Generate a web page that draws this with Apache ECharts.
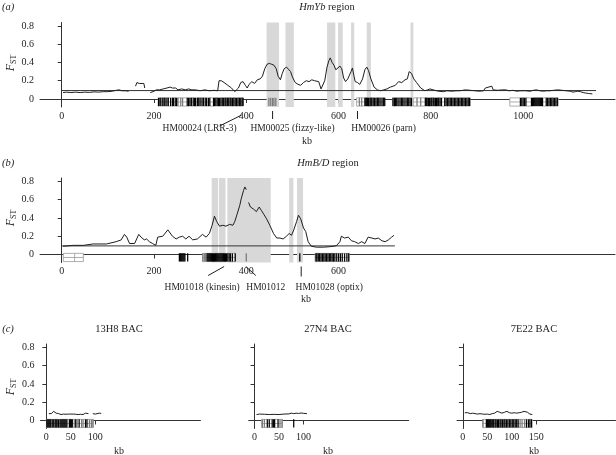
<!DOCTYPE html>
<html>
<head>
<meta charset="utf-8">
<script src="https://cdn.jsdelivr.net/npm/echarts@6/dist/echarts.min.js"></script>
<style>
html, body { margin: 0; padding: 0; background: #fff; }
#chart { width: 616px; height: 455px; }
</style>
</head>
<body>
<div id="chart"></div>
<script>
// ---- panel (a) HmYb region ----
const fstA = [[3,0.07],[10,0.075],[20,0.07],[30,0.075],[40,0.07],[50,0.075],[60,0.072],[70,0.078],[80,0.075],[90,0.08],[100,0.08],[110,0.085],[118,0.095],[125,0.1],[130,0.09],[138,0.09],[145,0.085],[152,null],
  [160,0.14],[163,0.18],[168,0.17],[172,0.18],[178,0.17],[180,0.12],[186,null],
  [192,0.07],[198,0.08],[205,0.1],[212,0.1],[220,0.11],[228,0.12],[235,0.13],[240,0.12],[247,0.12],[252,0.1],[260,0.11],[268,0.1],[275,0.11],[282,0.1],[290,0.1],[300,0.09],[310,0.1],[320,0.09],[330,0.095],[338,0.09],
  [341,0.2],[346,0.2],[352,0.18],[360,0.15],[368,0.12],[375,0.08],[379,0.07],[383,0.12],[388,0.18],[393,0.19],[398,0.15],[402,0.12],[406,0.16],[412,0.19],[418,0.17],[424,0.21],[430,0.22],[435,0.25],
  [440,0.33],[445,0.38],[450,0.39],[455,0.38],[460,0.37],[465,0.33],[469,0.25],[474,0.21],[478,0.28],[482,0.33],[487,0.35],[491,0.34],[496,0.3],[500,0.24],[506,0.18],[512,0.16],[518,0.15],[524,0.18],[530,0.2],[536,0.19],[542,0.21],[548,0.2],[552,0.22],[557,0.19],[562,0.11],[566,0.1],
  [570,0.2],[575,0.35],[579,0.42],[582,0.45],[586,0.4],[590,0.37],[594,0.32],[598,0.34],[603,0.36],[607,0.33],[611,0.23],[615,0.19],[620,0.22],[624,0.2],[627,0.3],[630,0.34],[633,0.26],[636,0.19],[641,0.18],[646,0.16],[652,0.22],[657,0.32],[661,0.35],[665,0.31],[670,0.22],[677,0.13],[684,0.1],
  [691,0.09],[698,0.1],[705,0.11],[712,0.13],[718,0.14],[723,0.15],[730,0.19],[737,0.18],[744,0.21],[749,0.22],[753,0.3],[758,0.28],[763,0.22],[769,0.18],[778,0.12],[787,0.09],[793,0.1],[798,0.11],[805,0.1],[816,0.085],[827,0.08],[835,0.09],[845,0.085],[855,0.09],[863,0.09],[875,0.1],[885,0.095],[895,0.09],[905,0.085],[914,0.09],
  [918,0.12],[922,0.14],[932,0.14],[935,0.1],[945,0.095],[955,0.1],[962,0.1],[970,0.09],[978,0.095],[986,0.085],[995,0.09],[1005,0.09],[1015,0.085],[1022,0.095],[1029,0.1],[1036,0.09],[1044,0.085],[1051,0.09],[1058,0.09],[1066,0.095],[1075,0.1],[1084,0.095],[1093,0.09],[1102,0.085],[1108,0.075],[1113,0.08],[1118,0.085],[1124,0.08],[1130,0.07],[1135,0.065],[1142,0.06],[1150,0.055]];
const cutoffA = [[0, 0.092], [1158, 0.092]];
const bandsA = [[444,471],[485,503],[575,593],[599,609],[627,634],[661,670],[756,762]];
const boxesA = [[209,393],[639,700],[717,758],[762,885],[971,1076]];
const blackTicksA = [210,213,215,219,222,224,228,231,236,240,242,246,249,
  272,275,278,281,285,288,290,294,297,300,304,307,311,314,318,321,
  329,331,334,337,340,342,345,348,351,354,356,359,362,365,367,370,373,376,379,382,385,388,391,393,
  657,659,661,663,665,668,670,672,675,678,681,684,687,690,694,697,700,
  718,721,723,726,729,733,736,739,742,746,749,752,755,758,
  788,790,792,795,797,800,802,805,807,810,812,815,817,820,823,830,833,836,839,842,845,848,851,854,857,860,863,866,869,872,875,878,881,884,
  994,997,1000,1003,1006,1018,1020,1022,1024,1026,1028,1030,1032,1034,1036,1038,1040,1042,1050,1053,1056,1059,1062,1065,1068,1071,1074];
const grayTicksA = [252,258,262,449,453,457,460,464,645,650,770,778];
const genesA = ['HM00024 (LRR-3)', 'HM00025 (fizzy-like)', 'HM00026 (parn)'];
const genePosA = [390, 457, 641];
const xTicksA = [0, 200, 400, 600, 800, 1000];

// ---- panel (b) HmB/D region ----
const fstB = [[3,0.09],[25,0.1],[47,0.1],[68,0.115],[97,0.115],[118,0.14],[129,0.16],[136,0.22],[141,0.19],[147,0.12],[158,0.12],[167,0.22],[172,0.19],[179,0.16],[184,0.17],[190,0.14],[197,0.12],[204,0.1],
  [208,0.19],[219,0.2],[230,0.27],[233,0.29],[240,0.2],[248,0.17],[255,0.19],[262,0.2],[269,0.17],[276,0.2],[284,0.16],[294,0.17],[305,0.22],[313,0.19],[320,0.23],[326,0.32],[331,0.42],[336,0.36],[342,0.31],[349,0.32],[356,0.31],[364,0.33],[371,0.32],[375,0.36],[380,0.44],[386,0.54],[389,0.61],[394,0.7],[397,0.74],[400,0.71],[403,null],
  [405,0.57],[409,0.52],[415,0.5],[422,0.47],[428,0.52],[433,0.48],[438,0.44],[444,0.39],[451,0.32],[459,0.23],[466,0.18],[473,0.18],[480,0.17],[487,0.2],[493,0.23],[498,0.21],[503,0.27],[509,0.36],[513,0.43],[518,0.39],[524,0.29],[529,0.25],[534,0.14],[541,0.09],[552,0.08],[567,0.08],[581,0.085],[595,0.095],[603,0.14],[606,0.2],[613,0.18],[621,0.19],[628,0.15],[635,0.14],[643,0.12],[650,0.14],[657,0.12],[664,0.19],[672,0.18],[679,0.17],[686,0.18],[694,0.15],[701,0.14],[708,0.16],[715,0.19],[720,0.21]];
const cutoffB = [[0, 0.094], [722, 0.094]];
const bandsB = [[325,339],[341,355],[359,453],[493,502],[510,523]];
const boxesB = [[3.5,47],[305,376],[549,623]];
const dividersB = [28];
const blackTicksB = [255,257,259,261,263,265,267,273,
  315,317,319,321,323,325,327,329,331,333,335,337,339,341,343,345,347,349,351,353,355,357,360,363,366,370,376,516,
  551,553,556,559,562,565,568,571,574,577,580,583,586,589,592,596,600,604,608,613,618,622];
const grayTicksB = [306,309,312,400];
const genesB = ['HM01018 (kinesin)', 'HM01012', 'HM01028 (optix)'];
const genePosB = [352, 399, 519];
const xTicksB = [0, 200, 400, 600];

// ---- panel (c) BACs ----
const bacNames = ['13H8 BAC', '27N4 BAC', '7E22 BAC'];
const fstC1 = [[5,0.075],[10,0.075],[15,0.1],[20,0.08],[25,0.075],[30,0.065],[35,0.07],[40,0.068],[45,0.07],[50,0.07],[55,0.07],[60,0.068],[65,0.065],[70,0.068],[75,0.065],[80,0.08],[86,0.075],[90,null],[95,0.075],[100,0.07],[104,0.075],[108,0.08],[112,0.078]];
const fstC2 = [[4,0.065],[10,0.07],[20,0.068],[30,0.065],[40,0.067],[50,0.065],[60,0.07],[70,0.072],[75,0.08],[80,0.075],[85,0.08],[90,0.077],[95,0.082],[100,0.078],[107,0.075]];
const fstC3 = [[4,0.085],[10,0.085],[15,0.075],[20,0.08],[25,0.075],[30,0.07],[35,0.075],[40,0.07],[45,0.068],[50,0.07],[55,0.065],[60,0.075],[65,0.08],[70,0.1],[75,0.09],[80,0.08],[85,0.09],[90,0.1],[95,0.085],[100,0.08],[105,0.085],[110,0.08],[115,0.085],[120,0.09],[125,0.1],[128,0.11],[132,0.09],[137,0.07],[142,0.065]];
const boxesC1 = [[0,96]], boxesC2 = [[14,57]], boxesC3 = [[41,142]];
const blackTicksC1 = [1,3,5,7,9,12,15,18,20,22,25,28,30,32,34,36,38,40,42,47,49,51,53,60,67,80,83];
const grayTicksC1 = [57,63,72,75,88,92,95];
const blackTicksC2 = [26,30,36,39,41,48,80];
const grayTicksC2 = [16,20,52,56];
const blackTicksC3 = [48,50,52,54,56,58,61,63,66,68,71,73,76,78,81,84,86,89,92,95,98,101,104,107,110,113,130,134,137,140];
const grayTicksC3 = [41,117,121,126];
const xTicksC = [[0, 50, 100], [0, 50, 100], [0, 50, 100, 150]];

const yTicks = [0, 0.2, 0.4, 0.6, 0.8];

// ---- layout ----
const Y_MIN = -0.088, Y_MAX = 0.838;
const TRACK_TOP = 0.012, TRACK_BOT = -0.078, TRACK_MID = -0.033;
const FONT = '"Liberation Serif", "DejaVu Serif", serif';
const INK = '#1e1e1e';

const grids = [
  {left: 40, top: 22.5, width: 575, height: 84.5},
  {left: 40, top: 178, width: 575, height: 84.5},
  {left: 40.5, top: 344, width: 160, height: 84.5},
  {left: 248.7, top: 344, width: 160, height: 84.5},
  {left: 457, top: 344, width: 158.5, height: 84.5}
];
const xRanges = [[-47, 1199], [-47, 1199], [-12, 315], [-12, 315], [-12, 312]];
const xTickSets = [xTicksA, xTicksB].concat(xTicksC);

const xAxes = grids.map((g, i) => ({
  gridIndex: i, type: 'value', min: xRanges[i][0], max: xRanges[i][1],
  axisLine: {lineStyle: {color: '#333', width: 1}},
  axisTick: {customValues: xTickSets[i], length: 4, lineStyle: {color: '#333'}},
  axisLabel: {customValues: xTickSets[i], fontFamily: FONT, fontSize: 10, color: INK, margin: 4,
    formatter: v => String(v)},
  splitLine: {show: false}
}));
const yAxes = grids.map((g, i) => ({
  gridIndex: i, type: 'value', min: Y_MIN, max: Y_MAX,
  axisLine: {show: true, lineStyle: {color: '#333', width: 1}},
  axisTick: {show: true, customValues: yTicks, length: 4, lineStyle: {color: '#333'}},
  axisLabel: {show: i < 3, customValues: yTicks, fontFamily: FONT, fontSize: 10, color: INK, margin: 6,
    formatter: v => String(v)},
  splitLine: {show: false}
}));

function fstSeries(i, data, bands) {
  const s = {
    type: 'line', xAxisIndex: i, yAxisIndex: i, data: data, symbol: 'none',
    connectNulls: false, lineStyle: {color: INK, width: 1}, z: 5, silent: true
  };
  if (bands) {
    s.markArea = {
      silent: true, itemStyle: {color: '#d8d8d8'},
      data: bands.map(b => [{xAxis: b[0]}, {xAxis: b[1]}])
    };
  }
  return s;
}
function cutoffSeries(i, data) {
  return {type: 'line', xAxisIndex: i, yAxisIndex: i, data: data, symbol: 'none',
    lineStyle: {color: '#333', width: 1}, z: 4, silent: true};
}
function boxSeries(i, boxes, dividers) {
  return {
    type: 'custom', xAxisIndex: i, yAxisIndex: i, z: 6, silent: true,
    data: boxes,
    renderItem: function (params, api) {
      const p0 = api.coord([api.value(0), TRACK_TOP]);
      const p1 = api.coord([api.value(1), TRACK_BOT]);
      const pm = api.coord([api.value(0), TRACK_MID]);
      const kids = [
        {type: 'rect', shape: {x: p0[0], y: p0[1], width: p1[0] - p0[0], height: p1[1] - p0[1]},
          style: {fill: '#fff', stroke: '#999', lineWidth: 0.8}},
        {type: 'line', shape: {x1: p0[0], y1: pm[1], x2: p1[0], y2: pm[1]}, style: {stroke: '#999', lineWidth: 0.8}}
      ];
      (dividers || []).forEach(d => {
        if (d > api.value(0) && d < api.value(1)) {
          const q = api.coord([d, TRACK_TOP]);
          kids.push({type: 'line', shape: {x1: q[0], y1: p0[1], x2: q[0], y2: p1[1]}, style: {stroke: '#999', lineWidth: 0.8}});
        }
      });
      return {type: 'group', children: kids};
    }
  };
}
function tickSeries(i, ticks, color) {
  return {
    type: 'custom', xAxisIndex: i, yAxisIndex: i, z: 7, silent: true,
    data: ticks.map(t => [t]),
    renderItem: function (params, api) {
      const a = api.coord([api.value(0), TRACK_TOP]);
      const b = api.coord([api.value(0), TRACK_BOT]);
      return {type: 'line', shape: {x1: a[0], y1: a[1], x2: b[0], y2: b[1]}, style: {stroke: color, lineWidth: 1.25}};
    }
  };
}
// callout offsets (px) relative to the axis point under each gene
const calloutA = [
  {lx1: 0, ly1: 8, lx2: -22, ly2: 19, tx: -42, ty: 21},
  {lx1: 0, ly1: 4, lx2: 0, ly2: 12, tx: 20, ty: 21},
  {lx1: 0, ly1: 4, lx2: 0, ly2: 12, tx: 26, ty: 21}
];
const calloutB = [
  {lx1: 0, ly1: 4, lx2: -16, ly2: 13, tx: -22, ty: 25},
  {lx1: 0, ly1: 4, lx2: 10, ly2: 13, tx: 20, ty: 25},
  {lx1: 0, ly1: 4, lx2: 0, ly2: 14, tx: 28, ty: 25}
];
function calloutSeries(i, pos, names, layout) {
  return {
    type: 'custom', xAxisIndex: i, yAxisIndex: i, z: 8, silent: true, clip: false,
    data: pos.map(p => [p]),
    renderItem: function (params, api) {
      const L = layout[params.dataIndex];
      const b = api.coord([api.value(0), Y_MIN]);
      return {type: 'group', children: [
        {type: 'line', shape: {x1: b[0] + L.lx1, y1: b[1] + L.ly1, x2: b[0] + L.lx2, y2: b[1] + L.ly2},
          style: {stroke: INK, lineWidth: 1}},
        {type: 'text', x: b[0] + L.tx, y: b[1] + L.ty,
          style: {text: names[params.dataIndex], fill: INK, font: '9.5px ' + FONT, align: 'center', verticalAlign: 'middle'}}
      ]};
    }
  };
}

const series = [
  fstSeries(0, fstA, bandsA), cutoffSeries(0, cutoffA), boxSeries(0, boxesA),
  tickSeries(0, grayTicksA, '#7a7a7a'), tickSeries(0, blackTicksA, '#000'), calloutSeries(0, genePosA, genesA, calloutA),
  fstSeries(1, fstB, bandsB), cutoffSeries(1, cutoffB), boxSeries(1, boxesB, dividersB),
  tickSeries(1, grayTicksB, '#7a7a7a'), tickSeries(1, blackTicksB, '#000'), calloutSeries(1, genePosB, genesB, calloutB),
  fstSeries(2, fstC1), boxSeries(2, boxesC1), tickSeries(2, grayTicksC1, '#7a7a7a'), tickSeries(2, blackTicksC1, '#000'),
  fstSeries(3, fstC2), boxSeries(3, boxesC2), tickSeries(3, grayTicksC2, '#7a7a7a'), tickSeries(3, blackTicksC2, '#000'),
  fstSeries(4, fstC3), boxSeries(4, boxesC3), tickSeries(4, grayTicksC3, '#7a7a7a'), tickSeries(4, blackTicksC3, '#000')
];

function txt(x, y, text, size, italic) {
  return {type: 'text', x: x, y: y, silent: true,
    style: {text: text, font: (italic ? 'italic ' : '') + size + 'px ' + FONT, fill: INK, align: 'center', verticalAlign: 'middle'}};
}
function fstLabel(x, y) {
  return {type: 'text', x: x, y: y, rotation: Math.PI / 2, silent: true,
    style: {text: '{f|F}{s|ST}', align: 'center', verticalAlign: 'middle',
      rich: {f: {font: 'italic 12px ' + FONT, fill: INK, lineHeight: 14, verticalAlign: 'middle'},
             s: {font: '8px ' + FONT, fill: INK, lineHeight: 14, verticalAlign: 'bottom'}}}};
}
function titleRich(x, y, ital, rest) {
  return {type: 'text', x: x, y: y, silent: true,
    style: {text: '{i|' + ital + '}{r|' + rest + '}', align: 'center', verticalAlign: 'middle',
      rich: {i: {font: 'italic 10.5px ' + FONT, fill: INK}, r: {font: '10.5px ' + FONT, fill: INK}}}};
}

const graphic = [
  txt(8, 7.5, '(a)', 10.5, true),
  titleRich(327, 7, 'HmYb', ' region'),
  fstLabel(11, 63),
  txt(307, 141, 'kb', 10),
  txt(8, 163.5, '(b)', 10.5, true),
  titleRich(328, 163.5, 'HmB/D', ' region'),
  fstLabel(11, 218),
  txt(306, 299, 'kb', 10),
  txt(8, 329, '(c)', 10.5, true),
  fstLabel(11, 387),
  txt(119, 329, bacNames[0], 10.5), txt(328, 329, bacNames[1], 10.5), txt(534, 329, bacNames[2], 10.5),
  txt(119, 451, 'kb', 10), txt(328, 451, 'kb', 10), txt(534, 451, 'kb', 10)
];

const chart = echarts.init(document.getElementById('chart'), null, {renderer: 'canvas'});
chart.setOption({
  animation: false,
  backgroundColor: '#fff',
  grid: grids,
  xAxis: xAxes,
  yAxis: yAxes,
  series: series,
  graphic: graphic
});
</script>
</body>
</html>
